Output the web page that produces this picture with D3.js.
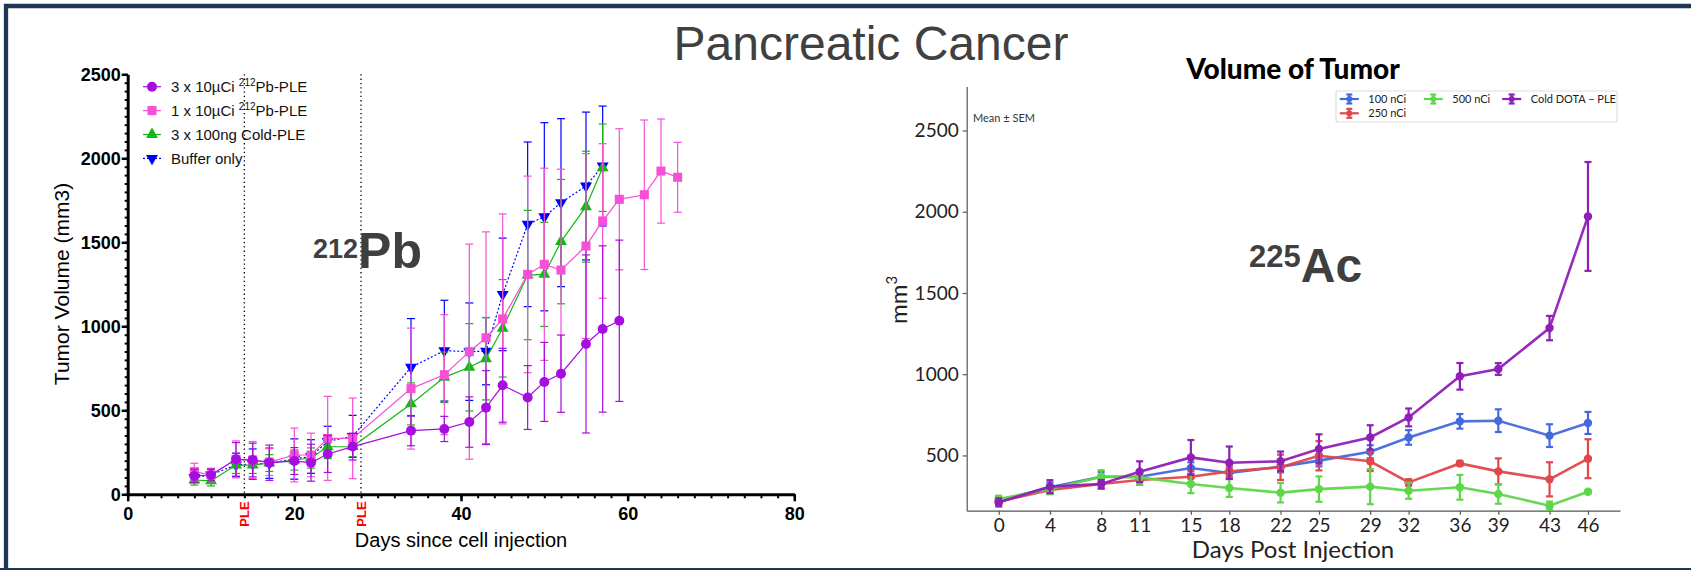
<!DOCTYPE html>
<html>
<head>
<meta charset="utf-8">
<script src="https://cdn.jsdelivr.net/npm/d3@7"></script>
<style>
body { margin: 0; background: #fff; }
</style>
</head>
<body>
<script>
// ---- 212Pb panel data (days since cell injection, tumor volume mm3, error) ----
const pbDays = [8, 10, 13, 15, 17, 20, 22, 24, 27, 34, 38, 41, 43, 45, 48, 50, 52, 55, 57, 59, 62, 64, 66];
const pbTriple = [109, 115, 208, 204, 188, 198, 188, 240, 284, 379, 389, 430, 516, 649, 576, 669, 718, 895, 984, 1033];
const pbTripleErr = [40, 35, 100, 100, 105, 80, 110, 110, 80, 90, 75, 150, 220, 220, 190, 235, 230, 530, 495, 480];
const pbSingle = [135, 115, 208, 204, 192, 234, 234, 333, 333, 629, 712, 849, 932, 1044, 1309, 1369, 1335, 1478, 1627, 1756, 1783, 1924, 1887];
const pbSingleErr = [50, 40, 110, 110, 80, 160, 130, 250, 240, 360, 357, 640, 630, 625, 585, 572, 600, 550, 460, 420, 445, 310, 208];
const pbCold = [85, 80, 174, 174, 186, 204, 216, 283, 284, 538, 696, 756, 807, 988, 1305, 1309, 1504, 1712, 1944];
const pbColdErr = [30, 30, 50, 50, 50, 60, 60, 70, 60, 125, 150, 260, 245, 290, 385, 310, 370, 330, 260];
const pbBuffer = [100, 115, 175, 180, 185, 210, 225, 315, 345, 756, 855, 849, 852, 1190, 1607, 1652, 1736, 1835, 1954];
const pbBufferErr = [25, 35, 70, 90, 90, 120, 100, 90, 125, 290, 300, 290, 200, 335, 490, 560, 500, 440, 357];
const pbXTicks = [0, 20, 40, 60, 80];
const pbYTicks = [0, 500, 1000, 1500, 2000, 2500];
const pleDays = [14, 28];

// ---- 225Ac panel data (days post injection, mm3, SEM) ----
const acDays = [0, 4, 8, 11, 15, 18, 22, 25, 29, 32, 36, 39, 43, 46];
const ac100 = [222, 304, 369, 369, 423, 392, 431, 468, 523, 611, 710, 714, 622, 700];
const ac100Err = [25, 30, 30, 30, 35, 30, 35, 35, 40, 45, 45, 70, 70, 68];
const ac250 = [217, 287, 324, 349, 369, 402, 427, 498, 464, 334, 451, 402, 353, 480];
const ac250Err = [20, 25, 30, 30, 35, 35, 78, 90, 60, 20, 15, 80, 105, 120];
const ac500 = [232, 293, 369, 365, 324, 300, 271, 293, 308, 283, 304, 263, 191, 277];
const ac500Err = [20, 30, 40, 45, 56, 55, 60, 78, 108, 50, 76, 60, 25, 10];
const acCold = [211, 308, 324, 400, 488, 455, 464, 540, 611, 734, 987, 1032, 1284, 1971];
const acColdErr = [25, 40, 25, 64, 107, 100, 60, 90, 75, 55, 82, 36, 75, 335];
const acYTicks = [500, 1000, 1500, 2000, 2500];

const W = 1691, H = 570;
const svg = d3.select("body").append("svg").attr("width", W).attr("height", H)
    .style("display", "block").style("background", "#fff");

// frame
const frame = "#1f3753";
svg.append("line").attr("x1", 4).attr("x2", W).attr("y1", 6).attr("y2", 6).attr("stroke", frame).attr("stroke-width", 4.3);
svg.append("line").attr("x1", 6).attr("x2", 6).attr("y1", 4).attr("y2", H).attr("stroke", frame).attr("stroke-width", 4.3);
svg.append("line").attr("x1", 0).attr("x2", W).attr("y1", 570).attr("y2", 570).attr("stroke", frame).attr("stroke-width", 4);

svg.append("text").attr("x", 871).attr("y", 60).attr("text-anchor", "middle")
    .style("font-family", "'Liberation Sans', Arial, sans-serif").style("font-size", "48px")
    .style("fill", "#404040").text("Pancreatic Cancer");

// ================= left panel =================
const arial = "'Liberation Sans', Arial, sans-serif";
const xL = d3.scaleLinear().domain([0, 80]).range([127.7, 794.3]);
const yL = d3.scaleLinear().domain([0, 2500]).range([494.3, 74.3]);
const left = svg.append("g");

// PLE dotted lines
left.selectAll(".ple").data(pleDays).enter().append("line")
    .attr("x1", d => xL(d)).attr("x2", d => xL(d))
    .attr("y1", yL(2500)).attr("y2", yL(0))
    .attr("stroke", "#000").attr("stroke-width", 1.3).attr("stroke-dasharray", "1.3,3");

const pbSeries = [
    {name: "buffer", vals: pbBuffer, err: pbBufferErr, color: "#0000ff", sym: "down", dash: "2,2"},
    {name: "cold", vals: pbCold, err: pbColdErr, color: "#12b812", sym: "up"},
    {name: "single", vals: pbSingle, err: pbSingleErr, color: "#f550d6", sym: "square"},
    {name: "triple", vals: pbTriple, err: pbTripleErr, color: "#a70ce0", sym: "circle"}
];

function symPath(sym) {
    if (sym === "circle") return d3.symbol().type(d3.symbolCircle).size(78)();
    if (sym === "square") return d3.symbol().type(d3.symbolSquare).size(82)();
    return d3.symbol().type(d3.symbolTriangle).size(62)();
}

pbSeries.forEach(s => {
    const pts = s.vals.map((v, i) => ({x: pbDays[i], y: v, e: s.err[i]}));
    const g = left.append("g");
    const eb = g.selectAll(".eb").data(pts).enter().append("g")
        .attr("stroke", s.color).attr("stroke-width", 1.2);
    eb.append("line").attr("x1", d => xL(d.x)).attr("x2", d => xL(d.x))
        .attr("y1", d => yL(d.y - d.e)).attr("y2", d => yL(d.y + d.e));
    eb.append("line").attr("x1", d => xL(d.x) - 4).attr("x2", d => xL(d.x) + 4)
        .attr("y1", d => yL(d.y + d.e)).attr("y2", d => yL(d.y + d.e));
    eb.append("line").attr("x1", d => xL(d.x) - 4).attr("x2", d => xL(d.x) + 4)
        .attr("y1", d => yL(d.y - d.e)).attr("y2", d => yL(d.y - d.e));
    g.append("path").datum(pts)
        .attr("d", d3.line().x(d => xL(d.x)).y(d => yL(d.y)))
        .attr("fill", "none").attr("stroke", s.color).attr("stroke-width", 1.2)
        .attr("stroke-dasharray", s.dash || null);
    g.selectAll(".mk").data(pts).enter().append("path")
        .attr("d", symPath(s.sym))
        .attr("transform", d => `translate(${xL(d.x)},${yL(d.y)})` + (s.sym === "down" ? " rotate(180)" : ""))
        .attr("fill", s.color);
});

// axes
const xAxisL = left.append("g").attr("transform", `translate(0,${yL(0)})`)
    .call(d3.axisBottom(xL).tickValues(pbXTicks).tickSize(7).tickSizeOuter(0).tickPadding(6).tickFormat(d3.format("d")));
xAxisL.select(".domain").attr("stroke-width", 3);
xAxisL.selectAll(".tick line").attr("stroke-width", 2.5);
xAxisL.selectAll("text").style("font-family", arial).style("font-size", "18px").style("font-weight", "bold").attr("fill", "#000");
left.append("g").attr("transform", `translate(0,${yL(0)})`)
    .call(d3.axisBottom(xL).tickValues(d3.range(0, 81, 2)).tickSize(4).tickFormat(""))
    .call(g => g.select(".domain").remove())
    .selectAll(".tick line").attr("stroke-width", 2);

const yAxisL = left.append("g").attr("transform", `translate(${xL(0)},0)`)
    .call(d3.axisLeft(yL).tickValues(pbYTicks).tickSize(6).tickSizeOuter(0).tickPadding(1).tickFormat(d3.format("d")));
yAxisL.select(".domain").attr("stroke-width", 3);
yAxisL.selectAll(".tick line").attr("stroke-width", 2.5);
yAxisL.selectAll("text").style("font-family", arial).style("font-size", "18px").style("font-weight", "bold").attr("fill", "#000");
left.append("g").attr("transform", `translate(${xL(0)},0)`)
    .call(d3.axisLeft(yL).tickValues(d3.range(0, 2501, 50)).tickSize(3).tickFormat(""))
    .call(g => g.select(".domain").remove())
    .selectAll(".tick line").attr("stroke-width", 2);

// PLE labels under the axis
left.selectAll(".pleLab").data(pleDays).enter().append("text")
    .attr("transform", d => `translate(${xL(d) + 4.5},514) rotate(-90)`)
    .attr("text-anchor", "middle")
    .style("font-family", arial).style("font-size", "13px").style("font-weight", "bold")
    .style("fill", "#ff0000").text("PLE");

left.append("text").attr("x", 461).attr("y", 547).attr("text-anchor", "middle")
    .style("font-family", arial).style("font-size", "20px").text("Days since cell injection");
left.append("text").attr("transform", "translate(69,284) rotate(-90)").attr("text-anchor", "middle")
    .style("font-family", arial).style("font-size", "21px").text("Tumor Volume (mm3)");

// legend
const pbLegend = [
    {s: pbSeries[3], pre: "3 x 10µCi ", sup: "212", post: "Pb-PLE"},
    {s: pbSeries[2], pre: "1 x 10µCi ", sup: "212", post: "Pb-PLE"},
    {s: pbSeries[1], pre: "3 x 100ng Cold-PLE", sup: "", post: ""},
    {s: pbSeries[0], pre: "Buffer only", sup: "", post: ""}
];
pbLegend.forEach((d, i) => {
    const cy = 86.7 + i * 23.9;
    left.append("line").attr("x1", 143).attr("x2", 161).attr("y1", cy).attr("y2", cy)
        .attr("stroke", d.s.color).attr("stroke-width", 1.2).attr("stroke-dasharray", d.s.dash || null);
    left.append("path").attr("d", symPath(d.s.sym))
        .attr("transform", `translate(152,${cy})` + (d.s.sym === "down" ? " rotate(180)" : ""))
        .attr("fill", d.s.color);
    const t = left.append("text").attr("x", 171).attr("y", cy + 5.3)
        .style("font-family", arial).style("font-size", "15px").style("fill", "#111");
    t.append("tspan").text(d.pre);
    if (d.sup) {
        t.append("tspan").attr("dy", -6).style("font-size", "10px").text(d.sup);
        t.append("tspan").attr("dy", 6).text(d.post);
    }
});

// isotope label
const pbLab = left.append("text").attr("x", 313).attr("y", 268)
    .style("font-family", arial).style("font-weight", "bold").style("fill", "#3f3f3f");
pbLab.append("tspan").attr("dy", -10).style("font-size", "27px").text("212");
pbLab.append("tspan").attr("dy", 10).style("font-size", "50px").text("Pb");

// ================= right panel =================
const geo = "Lato, 'Open Sans', sans-serif";
const xR = d3.scaleLinear().domain([-2.5, 48.5]).range([966.7, 1620]);
const yR = d3.scaleLinear().domain([160, 2770]).range([510.7, 86.6]);
const right = svg.append("g");

const xAxisR = right.append("g").attr("transform", `translate(0,${yR(160)})`)
    .call(d3.axisBottom(xR).tickValues(acDays).tickSize(4).tickSizeOuter(0).tickPadding(4).tickFormat(d3.format("d")));
const yAxisR = right.append("g").attr("transform", `translate(${xR(-2.5)},0)`)
    .call(d3.axisLeft(yR).tickValues(acYTicks).tickSize(4).tickSizeOuter(0).tickPadding(4).tickFormat(d3.format("d")));
[xAxisR, yAxisR].forEach(a => {
    a.selectAll("path, line").attr("stroke", "#555").attr("stroke-width", 1.2);
    a.selectAll("text").style("font-family", geo).style("font-size", "19px").style("font-weight", "400").attr("fill", "#222");
});

const acSeries = [
    {name: "100 nCi", vals: ac100, err: ac100Err, color: "#4469df"},
    {name: "250 nCi", vals: ac250, err: ac250Err, color: "#e0474b"},
    {name: "500 nCi", vals: ac500, err: ac500Err, color: "#5ed64a"},
    {name: "Cold DOTA – PLE", vals: acCold, err: acColdErr, color: "#8f1fb7"}
];

acSeries.forEach(s => {
    const pts = s.vals.map((v, i) => ({x: acDays[i], y: v, e: s.err[i]}));
    const g = right.append("g");
    g.append("path").datum(pts)
        .attr("d", d3.line().x(d => xR(d.x)).y(d => yR(d.y)))
        .attr("fill", "none").attr("stroke", s.color).attr("stroke-width", 2.6).attr("opacity", 0.95);
    const eb = g.selectAll(".eb").data(pts).enter().append("g")
        .attr("stroke", s.color).attr("stroke-width", 2.2);
    eb.append("line").attr("x1", d => xR(d.x)).attr("x2", d => xR(d.x))
        .attr("y1", d => yR(d.y - d.e)).attr("y2", d => yR(d.y + d.e));
    eb.append("line").attr("x1", d => xR(d.x) - 3.5).attr("x2", d => xR(d.x) + 3.5)
        .attr("y1", d => yR(d.y + d.e)).attr("y2", d => yR(d.y + d.e));
    eb.append("line").attr("x1", d => xR(d.x) - 3.5).attr("x2", d => xR(d.x) + 3.5)
        .attr("y1", d => yR(d.y - d.e)).attr("y2", d => yR(d.y - d.e));
    g.selectAll(".pt").data(pts).enter().append("circle")
        .attr("cx", d => xR(d.x)).attr("cy", d => yR(d.y)).attr("r", 4.2)
        .attr("fill", s.color);
});

right.append("text").attr("x", 1293).attr("y", 79).attr("text-anchor", "middle")
    .style("font-family", geo).style("font-size", "28px").style("font-weight", "900")
    .text("Volume of Tumor");
right.append("text").attr("x", 1293).attr("y", 558).attr("text-anchor", "middle")
    .style("font-family", geo).style("font-size", "24px").style("font-weight", "400").style("fill", "#222")
    .text("Days Post Injection");
const mm = right.append("text").attr("transform", "translate(907,300) rotate(-90)").attr("text-anchor", "middle")
    .style("font-family", geo).style("font-size", "24px").style("font-weight", "400").style("fill", "#222");
mm.append("tspan").text("mm");
mm.append("tspan").attr("dy", -10).style("font-size", "15px").text("3");
right.append("text").attr("x", 973).attr("y", 121.5)
    .style("font-family", geo).style("font-size", "11px").style("fill", "#333").text("Mean ± SEM");

// legend box
right.append("rect").attr("x", 1336).attr("y", 91).attr("width", 281).attr("height", 31)
    .attr("rx", 2).attr("fill", "#fff").attr("stroke", "#ddd").attr("stroke-width", 1.2);
const acLegendPos = [[1349.3, 99], [1349.3, 113.3], [1433.3, 99], [1511.7, 99]];
acSeries.forEach((s, i) => {
    const [cx, cy] = acLegendPos[i];
    const g = right.append("g").attr("stroke", s.color).attr("stroke-width", 2.2);
    g.append("line").attr("x1", cx - 9.5).attr("x2", cx + 9.5).attr("y1", cy).attr("y2", cy);
    g.append("line").attr("x1", cx).attr("x2", cx).attr("y1", cy - 4.5).attr("y2", cy + 4.5);
    g.append("line").attr("x1", cx - 3).attr("x2", cx + 3).attr("y1", cy - 4.5).attr("y2", cy - 4.5);
    g.append("line").attr("x1", cx - 3).attr("x2", cx + 3).attr("y1", cy + 4.5).attr("y2", cy + 4.5);
    g.append("circle").attr("cx", cx).attr("cy", cy).attr("r", 3).attr("fill", s.color).attr("stroke", "none");
    right.append("text").attr("x", cx + 19).attr("y", cy + 4)
        .style("font-family", geo).style("font-size", "11px").style("fill", "#222").text(s.name);
});

// isotope label
const acLab = right.append("text").attr("x", 1249).attr("y", 281.7)
    .style("font-family", arial).style("font-weight", "bold").style("fill", "#3f3f3f");
acLab.append("tspan").attr("dy", -15).style("font-size", "31px").text("225");
acLab.append("tspan").attr("dy", 15).style("font-size", "48px").text("Ac");
</script>
</body>
</html>
